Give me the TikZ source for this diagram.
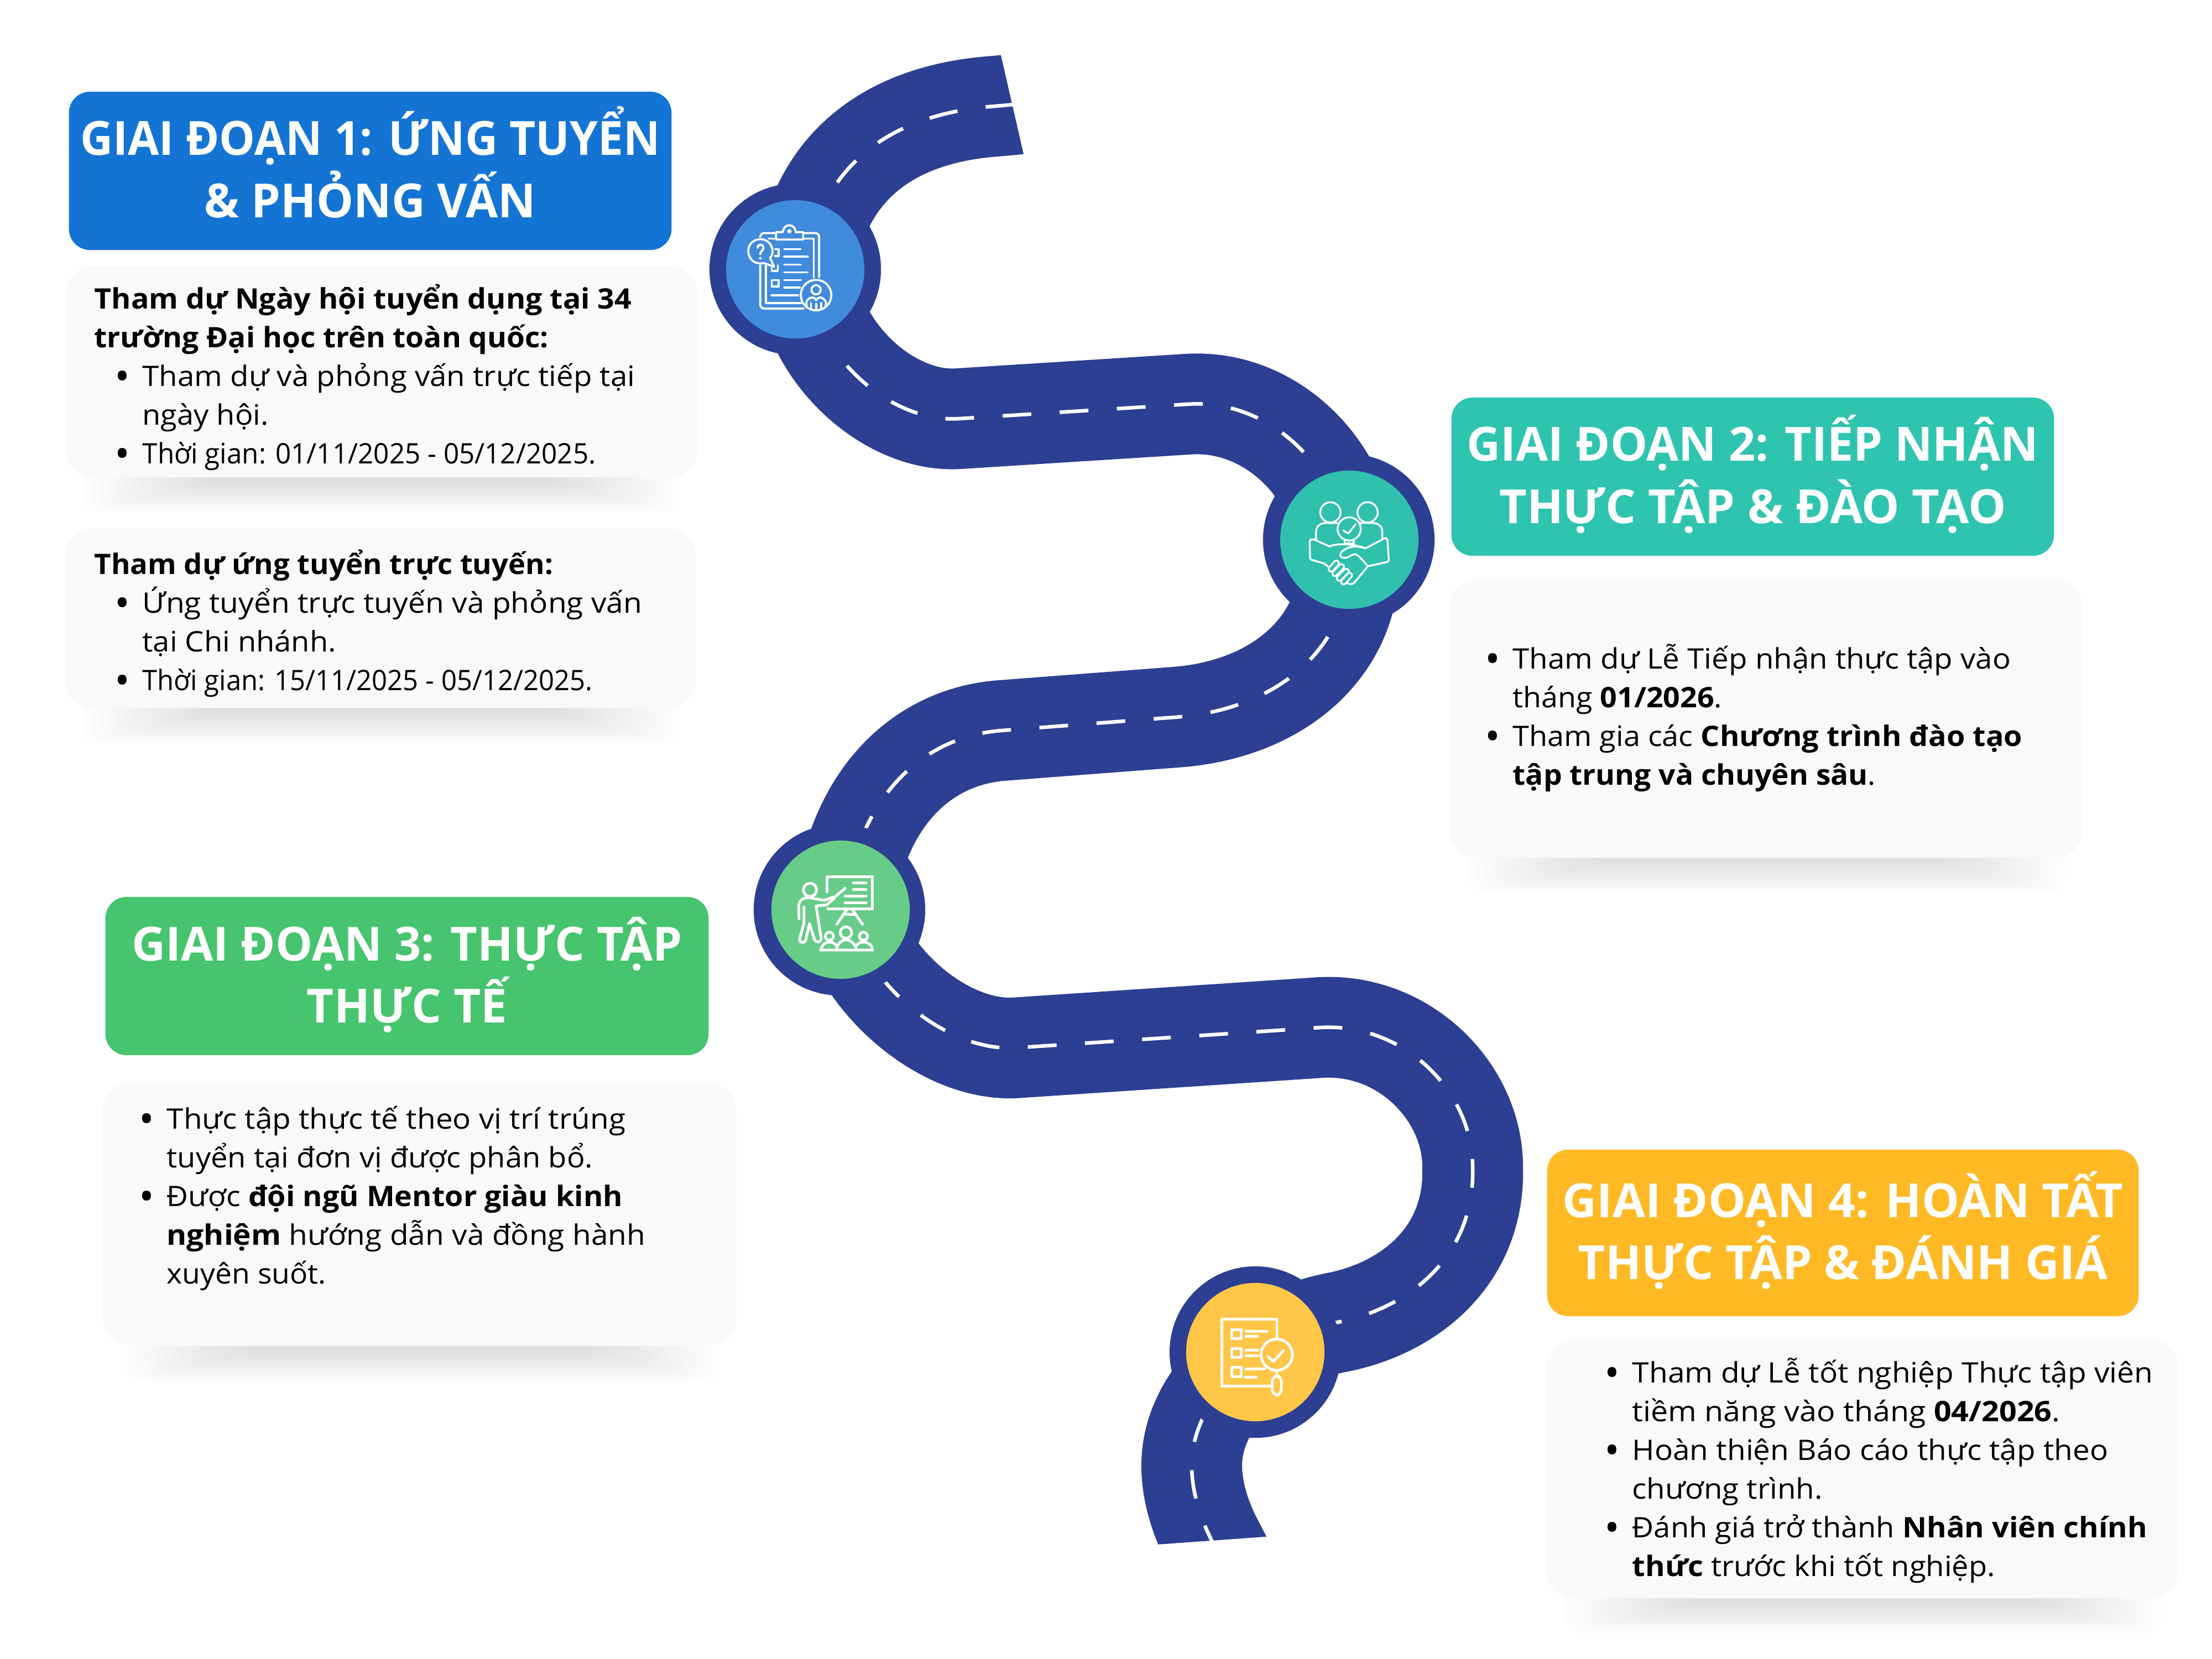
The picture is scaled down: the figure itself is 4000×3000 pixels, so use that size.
\documentclass[tikz,border=0pt]{standalone}
\usepackage{fontspec}
\usepackage{graphicx}
\setmainfont{Open Sans}
\usetikzlibrary{calc}
\newdimen\px \px=0.284527pt
\definecolor{road}{HTML}{2D3F92}
\definecolor{cardbg}{HTML}{F8F9FB}
\definecolor{hblue}{HTML}{1474D4}
\definecolor{hteal}{HTML}{2EC4B0}
\definecolor{hgreen}{HTML}{46C46E}
\definecolor{hyellow}{HTML}{FFB925}
\definecolor{cblue}{HTML}{418BDD}
\definecolor{cteal}{HTML}{2FC0AE}
\definecolor{cgreen}{HTML}{66CC88}
\definecolor{cyellow}{HTML}{FFC648}
% header line: raised baseline, centred, fitted to a width
\newcommand\hl[3]{\hbox to 0pt{\hss\raisebox{#1\px}[0pt][0pt]{\resizebox{#2\px}{\height}{#3}}\hss}}
% text block: first baseline is the node base
\newcommand\tb[1]{\vtop{\baselineskip=70\px \lineskiplimit=-100pt #1}}
\newcommand\tl[3]{\hbox{\kern#1\px\resizebox{#2\px}{\height}{#3}}}
\newcommand\bl[3]{\hbox{\kern#1\px\hbox to 0pt{\kern-50\px\raisebox{-8\px}{\scalebox{1.45}{\textbullet}}\hss}\resizebox{#2\px}{\height}{#3}}}
\newcommand\band[3]{\foreach \i in {0,...,15}{\fill[black,opacity=.0062,rounded corners=25\px]
  ({#1+\i*15},{#3-40}) rectangle ({#2-\i*15},{#3+64-\i*3.6});}}
\tikzset{
  header/.style={rectangle,rounded corners=38\px,inner sep=0pt,text=white,font=\fontsize{24.2}{30}\selectfont\bfseries},
  card/.style={rectangle,rounded corners=50\px,fill=cardbg,inner sep=0pt},
  cardtext/.style={anchor=base west,inner sep=0pt,text=black,font=\fontsize{14.5}{20}\selectfont},
  halo/.style={circle,fill=road,inner sep=0pt,minimum size=310\px},
  disc/.style={circle,inner sep=0pt,minimum size=250\px},
  ic/.style={draw=white,line join=round,line cap=round,fill=none},
  izoom/.style={shift={#1},x=0.0033333cm,y=-0.0033333cm},
}
\begin{document}
\begin{tikzpicture}[x=0.01cm,y=-0.01cm]
\useasboundingbox (0,0) rectangle (4000,3000);
\fill[white] (0,0) rectangle (4000,3000);
% shadows
\band{150}{1230}{863}
\band{150}{1230}{1280}
\band{2655}{3735}{1551}
\band{220}{1300}{2434}
\band{2830}{3910}{2890}
% road
\begin{scope}
\clip (0,0) -- (1787,0) -- (1851,279) -- (4000,279) -- (4000,2773) -- (2301,2778) -- (2091,2793) -- (0,2807) -- cycle;
\def\roadpath{(1900,183) -- (1800,192) .. controls (1620,205) and (1490,290) .. (1458,470) .. controls (1450,620) and (1600,767) .. (1735,757) -- (2146,731) .. controls (2295,720) and (2425,845) .. (2438,1000) .. controls (2450,1150) and (2330,1282) .. (2125,1297) -- (1811,1321) .. controls (1660,1333) and (1555,1450) .. (1530,1620) .. controls (1535,1745) and (1690,1900) .. (1833,1895) -- (2389,1858) .. controls (2540,1850) and (2663,1975) .. (2663,2110) .. controls (2668,2270) and (2550,2365) .. (2419,2391) .. controls (2290,2415) and (2155,2520) .. (2155,2650) .. controls (2155,2700) and (2172,2750) .. (2196,2795) -- (2240,2880)}
\draw[road,line width=182\px] \roadpath;
\draw[white,line width=6.5\px,dash pattern=on 52\px off 51.5\px,dash phase=37.5\px] \roadpath;
\end{scope}
% stage discs
\node[halo] (halo1) at (1438,487) {};
\node[halo] (halo2) at (2439,976) {};
\node[halo] (halo3) at (1518,1645) {};
\node[halo] (halo4) at (2270,2445) {};
\node[disc,fill=cblue] (disc1) at (1438,487) {};
\node[disc,fill=cteal] (disc2) at (2440,976) {};
\node[disc,fill=cgreen] (disc3) at (1520,1645) {};
\node[disc,fill=cyellow] (disc4) at (2270,2445) {};
% icon 1
\begin{scope}[izoom={(1260,320)},ic,line width=1.05pt]
\draw[ic,rounded corners=2pt] (345,480) -- (345,715) -- (580,715);
\draw[ic,rounded corners=2pt] (665,545) -- (665,305) -- (580,305);
\draw[ic,rounded corners=2pt] (430,305) -- (345,305) -- (345,325);
\draw[ic] (375,480) -- (375,685) -- (565,685);
\draw[ic] (635,545) -- (635,335) -- (580,335);
\draw[ic] (430,335) -- (390,335);
\draw[ic] (430,300) -- (468,300) .. controls (470,250) and (535,250) .. (537,300) -- (578,300) -- (578,340) -- (430,340) -- cycle;
\draw[ic] (503,295) circle[radius=6];
\draw[ic] (365,468) .. controls (300,480) and (278,430) .. (280,400) .. controls (280,360) and (315,338) .. (345,338) .. controls (385,338) and (412,370) .. (412,405) .. controls (412,420) and (405,432) .. (398,440) -- (420,488) -- cycle;
\draw[ic,line width=1.1pt] (330,385) .. controls (332,362) and (362,362) .. (362,385) .. controls (362,402) and (345,400) .. (345,420);
\fill[white] (345,442) circle[radius=7];
\draw[ic] (425,392) -- (445,392) -- (445,430) -- (425,430);
\draw[ic] (440,480) -- (440,510) -- (407,510) -- (407,495);
\draw[ic] (407,560) rectangle (445,595);
\foreach \a/\b/\c in {475/565/392,475/603/433,475/565/476,475/603/518,475/565/560,475/560/601,405/550/643}{\draw[ic] (\a,\c) -- (\b,\c);}
\draw[ic] (648,642) circle[radius=83];
\draw[ic] (648,613) circle[radius=25];
\draw[ic] (600,708) .. controls (585,680) and (605,655) .. (630,655) .. controls (640,655) and (645,665) .. (648,670) .. controls (652,665) and (657,655) .. (667,655) .. controls (692,655) and (712,680) .. (697,708);
\draw[ic] (620,685) -- (620,718) (648,690) -- (648,722) (676,685) -- (676,718);
\end{scope}
% icon 2
\begin{scope}[izoom={(2270,820)},ic,line width=.95pt]
\draw[ic] (408,320) circle[radius=55];
\draw[ic] (610,320) circle[radius=55];
\draw[ic] (330,470) -- (330,425) .. controls (330,395) and (355,378) .. (380,378) -- (445,378);
\draw[ic] (690,465) -- (690,425) .. controls (690,395) and (665,378) .. (640,378) -- (570,378);
\draw[ic] (510,410) circle[radius=63];
\draw[ic] (478,418) -- (505,435) -- (545,385);
\draw[ic] (485,472) -- (485,495) (535,472) -- (535,495);
\draw[ic] (485,490) -- (535,490);
\draw[ic] (395,615) -- (375,598) -- (305,578) .. controls (298,576) and (297,570) .. (297,565) -- (295,480) .. controls (295,468) and (310,464) .. (320,468) -- (403,505) .. controls (440,488) and (520,488) .. (600,515) -- (700,462) .. controls (712,456) and (718,465) .. (718,472) -- (725,575) .. controls (725,585) and (720,588) .. (715,590) -- (615,612);
\draw[ic] (600,515) .. controls (560,505) and (520,500) .. (490,520) .. controls (455,535) and (450,570) .. (490,568) .. controls (510,565) and (525,545) .. (545,548) .. controls (565,555) and (590,590) .. (612,612) -- (540,700) .. controls (525,715) and (510,712) .. (498,702);
\foreach \a/\b/\c/\d in {412/628/440/596, 432/652/468/615, 456/678/494/640, 480/698/512/662}{
  \draw[white,line width=3.5pt,line cap=round] (\a,\b) -- (\c,\d);
  \draw[cteal,line width=1.6pt,line cap=round] (\a,\b) -- (\c,\d);}
\end{scope}
% icon 3
\begin{scope}[izoom={(1350,1480)},ic,line width=1.4pt]
\draw[ic,line cap=butt,line join=miter] (437,405) -- (437,318) -- (683,318) -- (683,490) -- (435,490);
\foreach \a/\b/\c in {580/650/350,580/650/387,535/650/423,535/650/459}{\draw[ic] (\a,\c) -- (\b,\c);}
\draw[ic] (490,575) -- (545,495) (630,575) -- (575,495);
\draw[ic] (525,522) -- (595,522);
\draw[ic] (470,435) -- (535,380);
\draw[ic] (345,388) circle[radius=36];
\draw[ic] (285,545) -- (283,480) .. controls (285,440) and (310,430) .. (340,430) -- (420,445) -- (470,428);
\draw[ic] (312,482) -- (312,570) -- (288,655) .. controls (285,680) and (320,680) .. (323,655) -- (342,570) -- (368,655) .. controls (375,680) and (405,675) .. (405,650) -- (378,475) -- (435,470) -- (475,435);
\draw[ic] (450,640) circle[radius=22];
\draw[ic] (540,620) circle[radius=31];
\draw[ic] (635,640) circle[radius=22];
\draw[ic] (403,715) -- (685,715) .. controls (680,685) and (660,672) .. (635,672) .. controls (615,672) and (605,680) .. (596,692);
\draw[ic] (403,715) .. controls (410,685) and (430,672) .. (450,672) .. controls (470,672) and (480,680) .. (488,692);
\draw[ic] (488,712) .. controls (495,675) and (520,660) .. (540,660) .. controls (565,660) and (590,680) .. (597,712);
\end{scope}
% icon 4
\begin{scope}[izoom={(2100,2290)},ic,line width=1.4pt]
\draw[ic,line join=miter] (590,650) -- (330,650) -- (330,288) -- (628,288) -- (628,385);
\foreach \y in {343,445,548}{\draw[ic] (383,\y) rectangle (433,\y+50);}
\foreach \a/\b/\c in {460/575/352,460/522/381,460/525/456,460/525/485,460/560/558,457/515/601}{\draw[ic] (\a,\c) -- (\b,\c);}
\draw[ic] (627,480) circle[radius=85];
\draw[ic] (580,490) -- (608,517) -- (665,457);
\draw[ic] (627,568) -- (627,590);
\draw[ic,rounded corners=3pt] (603,595) rectangle (652,700);
\end{scope}
% headers
\node[header,fill=hblue,minimum width=1089\px,minimum height=286\px] (head1) at (669.5,309) {\hl{28}{1048}{GIAI ĐOẠN 1: ỨNG TUYỂN}\hl{-84}{599}{\& PHỎNG VẤN}};
\node[header,fill=hteal,minimum width=1089\px,minimum height=286\px] (head2) at (3169.5,862) {\hl{28}{1033}{GIAI ĐOẠN 2: TIẾP NHẬN}\hl{-84}{916}{THỰC TẬP \& ĐÀO TẠO}};
\node[header,fill=hgreen,minimum width=1090\px,minimum height=286\px] (head3) at (736,1765) {\hl{28}{995}{GIAI ĐOẠN 3: THỰC TẬP}\hl{-84}{362}{THỰC TẾ}};
\node[header,fill=hyellow,minimum width=1069\px,minimum height=301\px] (head4) at (3332.5,2229.5) {\hl{28}{1013}{GIAI ĐOẠN 4: HOÀN TẤT}\hl{-84}{957}{THỰC TẬP \& ĐÁNH GIÁ}};
% cards
\node[card,minimum width=1142\px,minimum height=381\px] (card1) at (690,672.5) {};
\node[card,minimum width=1140\px,minimum height=325\px] (card2) at (688,1117.5) {};
\node[card,minimum width=1143\px,minimum height=503\px] (card3) at (3193.5,1299.5) {};
\node[card,minimum width=1145\px,minimum height=475\px] (card4) at (758.5,2196.5) {};
\node[card,minimum width=1143\px,minimum height=467\px] (card5) at (3367.5,2656.5) {};
% card texts
\node[cardtext] (text1) at (170,558) {\tb{%
 \tl{0}{971}{\textbf{Tham dự Ngày hội tuyển dụng tại 34}}
 \tl{0}{821}{\textbf{trường Đại học trên toàn quốc:}}
 \bl{87}{890}{Tham dự và phỏng vấn trực tiếp tại}
 \tl{87}{228}{ngày hội.}
 \bl{87}{819}{Thời gian: 01/11/2025 - 05/12/2025.}}};
\node[cardtext] (text2) at (170,1038) {\tb{%
 \tl{0}{829}{\textbf{Tham dự ứng tuyển trực tuyến:}}
 \bl{87}{903}{Ứng tuyển trực tuyến và phỏng vấn}
 \tl{87}{350}{tại Chi nhánh.}
 \bl{87}{813}{Thời gian: 15/11/2025 - 05/12/2025.}}};
\node[cardtext] (text3) at (2735,1209) {\tb{%
 \bl{0}{900}{Tham dự Lễ Tiếp nhận thực tập vào}
 \tl{0}{378}{tháng \textbf{01/2026}.}
 \bl{0}{921}{Tham gia các \textbf{Chương trình đào tạo}}
 \tl{0}{656}{\textbf{tập trung và chuyên sâu}.}}};
\node[cardtext] (text4) at (301,2041) {\tb{%
 \bl{0}{829}{Thực tập thực tế theo vị trí trúng}
 \tl{0}{770}{tuyển tại đơn vị được phân bổ.}
 \bl{0}{824}{Được \textbf{đội ngũ Mentor giàu kinh}}
 \tl{0}{865}{\textbf{nghiệm} hướng dẫn và đồng hành}
 \tl{0}{288}{xuyên suốt.}}};
\node[cardtext] (text5) at (2951,2500) {\tb{%
 \bl{0}{941}{Tham dự Lễ tốt nghiệp Thực tập viên}
 \tl{0}{773}{tiềm năng vào tháng \textbf{04/2026}.}
 \bl{0}{860}{Hoàn thiện Báo cáo thực tập theo}
 \tl{0}{344}{chương trình.}
 \bl{0}{931}{Đánh giá trở thành \textbf{Nhân viên chính}}
 \tl{0}{656}{\textbf{thức} trước khi tốt nghiệp.}}};
\end{tikzpicture}
\end{document}
